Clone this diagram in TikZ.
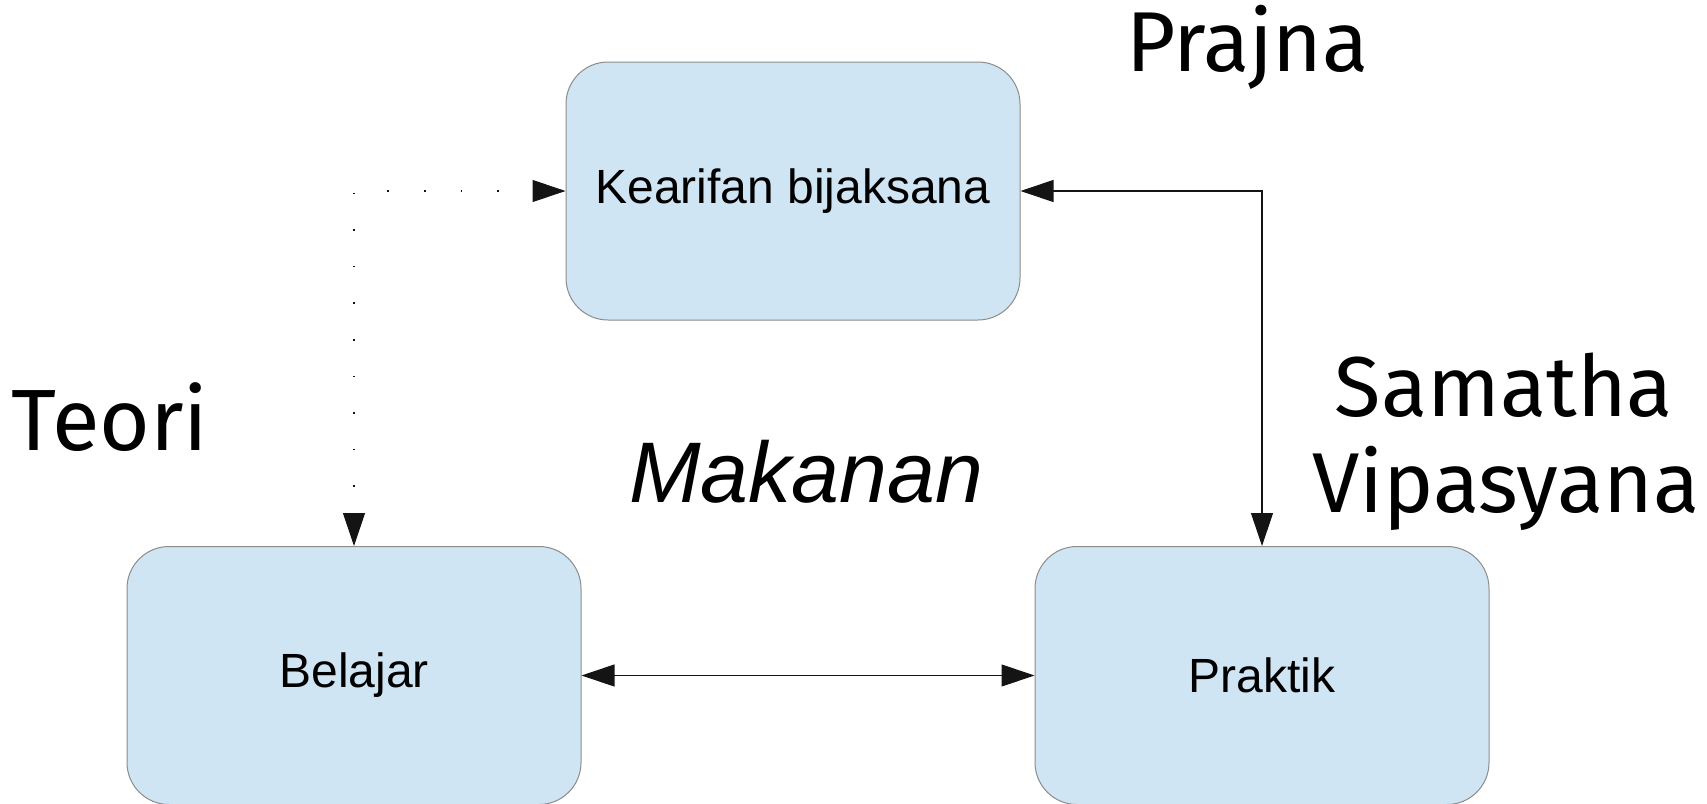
\documentclass[tikz,border=0pt]{standalone}
\usepackage{fontspec}
\setmainfont{Liberation Sans}
\newfontfamily\labfont{Fira Sans}
\usetikzlibrary{arrows.meta}
\definecolor{boxfill}{RGB}{207,229,243}
\definecolor{boxline}{RGB}{140,140,140}
\definecolor{linecol}{RGB}{20,20,20}
\tikzset{
  stepbox/.style={draw=boxline, line width=1pt, fill=boxfill, rounded corners=42pt,
    minimum width=454pt, minimum height=258pt, inner sep=0pt,
    font=\fontsize{48}{56}\selectfont},
  conn/.style={draw=linecol, line width=1.1pt, {Triangle[length=33pt,width=22pt]}-{Triangle[length=33pt,width=22pt]}},
  dotconn/.style={conn, dash pattern=on 1.5pt off 35.1pt, dash phase=2.6pt},
  biglabel/.style={inner sep=0pt, anchor=base, font=\labfont\fontsize{85}{96}\selectfont},
}
\begin{document}
\begin{tikzpicture}[x=1pt,y=-1pt]
\useasboundingbox (0,0) rectangle (1707,803);
\node[stepbox] (kea) at (793,191) {Kearifan bijaksana};
\node[stepbox] (bel) at (354,675.5) {Belajar};
\node[stepbox] (pra) at (1262,675.5) {Praktik};

\draw[dotconn] (kea.west) -| (bel.north);
\draw[conn] (kea.east) -| (pra.north);
\draw[conn] (bel.east) -- (pra.west);

\node[biglabel] (prajna) at (1247.5,71) {Prajna};
\node[biglabel, font=\labfont\fontsize{87}{96}\selectfont] (teori) at (110,450) {Teori};
\node[biglabel] (samatha) at (1504,416) {Samatha};
\node[biglabel] (vipas) at (1506,512) {Vipasyana};
\node[inner sep=0pt, anchor=base, font=\itshape\fontsize{86}{96}\selectfont] (makanan) at (806,502) {Makanan};
\end{tikzpicture}
\end{document}
